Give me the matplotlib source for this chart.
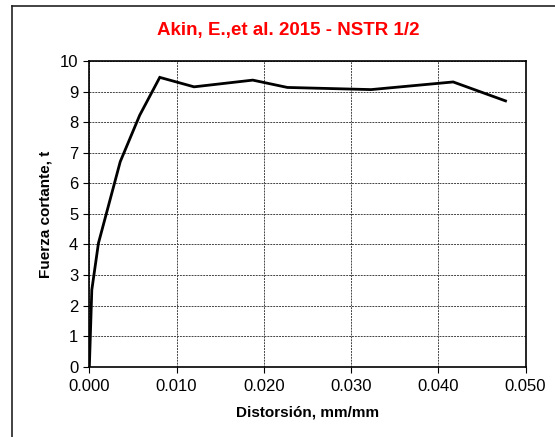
import matplotlib.pyplot as plt
from matplotlib.lines import Line2D

plt.rcParams['font.family'] = ['Liberation Sans', 'DejaVu Sans']

# data
distorsion = [0.0, 0.00028, 0.00104, 0.00354, 0.00577, 0.00807, 0.0120,
              0.01873, 0.0227, 0.0323, 0.0417, 0.0477]
fuerza = [0.0, 2.51, 4.04, 6.71, 8.23, 9.47, 9.16, 9.38, 9.14, 9.07, 9.32, 8.70]

xticks = [0.0, 0.01, 0.02, 0.03, 0.04, 0.05]
xticklabels = ["0.000", "0.010", "0.020", "0.030", "0.040", "0.050"]
yticks = list(range(0, 11))

fig = plt.figure(figsize=(5.55, 4.37), dpi=100)
ax = fig.add_axes([0.161, 0.161, 0.786, 0.699])

ax.plot(distorsion, fuerza, color='black', lw=2.0, solid_joinstyle='miter')

ax.set_xlim(0, 0.05)
ax.set_ylim(0, 10)
ax.set_xticks(xticks)
ax.set_xticklabels(xticklabels)
ax.set_yticks(yticks)
ax.tick_params(direction='out', length=4, width=0.8, labelsize=12)
ax.tick_params(axis='x', pad=5)
ax.tick_params(axis='y', pad=4)
ax.grid(True, color='#444444', linestyle=(0, (2, 1)), lw=0.7)
for s in ax.spines.values():
    s.set_linewidth(1.2)

ax.set_xlabel("Distorsión, mm/mm", fontsize=11, fontweight='bold', labelpad=8)
ax.set_ylabel("Fuerza cortante, t", fontsize=11, fontweight='bold', labelpad=5)

fig.text(288 / 555, 1 - 30 / 437, "Akin, E.,et al. 2015 - NSTR 1/2", color='red',
         fontsize=13.5, fontweight='bold', ha='center', va='center')

# outer chart frame (partly cut by the image edge)
fig.add_artist(Line2D([11.5 / 555, 11.5 / 555], [0, 1 - 6 / 437], color='#222222', lw=1.2))
fig.add_artist(Line2D([11.5 / 555, 1], [1 - 6 / 437, 1 - 6 / 437], color='#222222', lw=1.2))

fig.savefig("out.png", dpi=100)
